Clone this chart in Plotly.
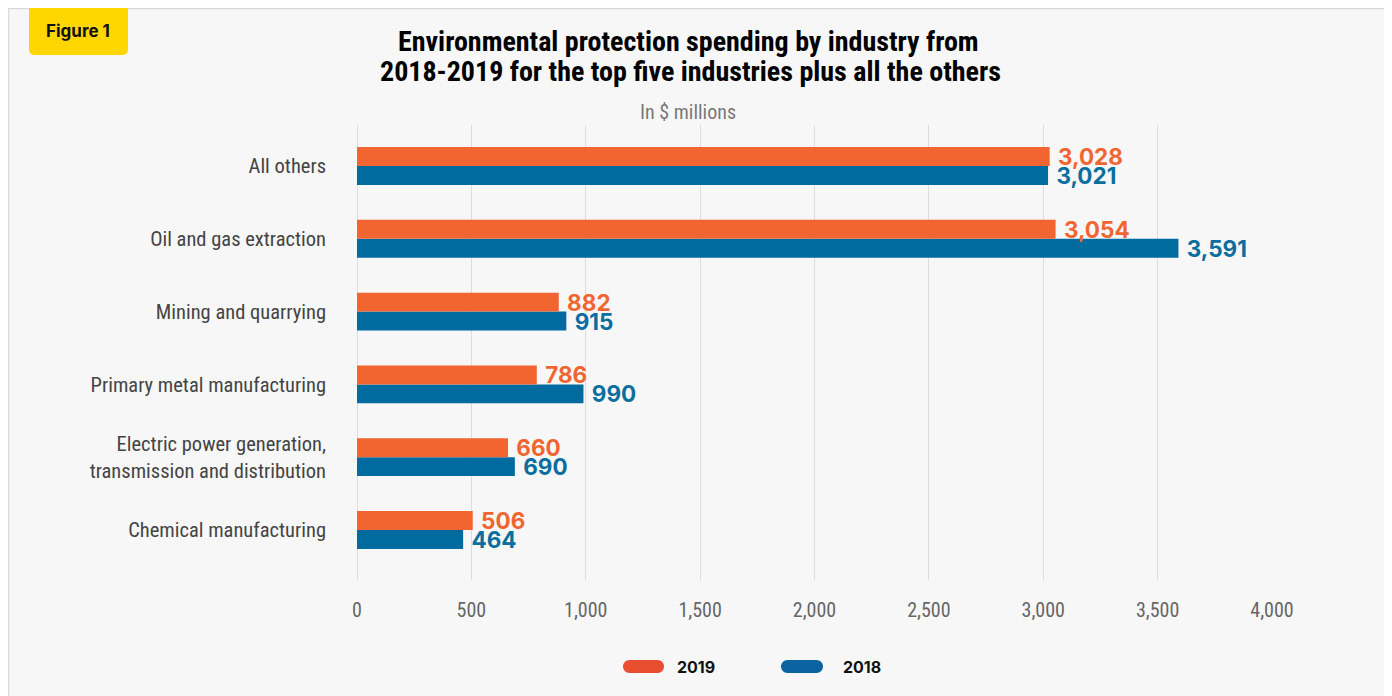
import plotly.graph_objects as go

# ---- data ----
categories = ["Chemical manufacturing",
              "Electric power generation,<br>transmission and distribution",
              "Primary metal manufacturing",
              "Mining and quarrying",
              "Oil and gas extraction",
              "All others"]
values_2019 = [506, 660, 786, 882, 3054, 3028]
values_2018 = [464, 690, 990, 915, 3591, 3021]
x_ticks = [0, 500, 1000, 1500, 2000, 2500, 3000, 3500, 4000]
x_tick_labels = ["0", "500", "1,000", "1,500", "2,000", "2,500", "3,000", "3,500", "4,000"]

# page has an 8px body margin, so the figure is drawn at (8, 8)
OFF = 8
W, H = 1392 - OFF, 696 - OFF
L, R, T, B = 357 - OFF, 120, 125 - OFF, 116
PW = W - L - R
PH = H - T - B

def px(x):  # page pixel x -> paper
    return (x - OFF - L) / PW

def py(y):  # page pixel y -> paper
    return (H - B - (y - OFF)) / PH

ORANGE = "#F26531"
BLUE = "#006B9F"
COND = "Roboto Condensed, DejaVu Sans Condensed, sans-serif"
BOLDF = "Inter, Lato, sans-serif"

fig = go.Figure()
fig.add_trace(go.Bar(y=categories, x=values_2018, orientation="h", name="2018",
                     marker=dict(color=BLUE, line=dict(width=0)),
                     texttemplate="\u00a0%{x:,}", textposition="outside", cliponaxis=False,
                     constraintext="none",
                     textfont=dict(family=BOLDF, size=22.5, color="#0A6E9E", weight="bold")))
fig.add_trace(go.Bar(y=categories, x=values_2019, orientation="h", name="2019",
                     marker=dict(color=ORANGE, line=dict(width=0)),
                     texttemplate="\u00a0%{x:,}", textposition="outside", cliponaxis=False,
                     constraintext="none",
                     textfont=dict(family=BOLDF, size=22.5, color="#F26531", weight="bold")))

shapes = []
# card background
shapes.append(dict(type="rect", xref="paper", yref="paper",
                   x0=px(8.5), x1=px(1390), y0=py(710), y1=py(8.5),
                   fillcolor="#F7F7F7", line=dict(color="#D9D9D9", width=1.5), layer="below"))
# badge
bx0, bx1, by0, by1, r = 29, 128, 8, 55, 6
path = (f"M {px(bx0)},{py(by0)} L {px(bx1)},{py(by0)} L {px(bx1)},{py(by1 - r)} "
        f"Q {px(bx1)},{py(by1)} {px(bx1 - r)},{py(by1)} L {px(bx0 + r)},{py(by1)} "
        f"Q {px(bx0)},{py(by1)} {px(bx0)},{py(by1 - r)} Z")
shapes.append(dict(type="path", xref="paper", yref="paper", path=path,
                   fillcolor="#FFD600", line=dict(width=0), layer="above"))

# legend pills
def pill(x0, x1, yc, h, color):
    rr = h / 2
    y0, y1 = yc - rr, yc + rr
    k = 0.55 * rr
    p = (f"M {px(x0 + rr)},{py(y0)} L {px(x1 - rr)},{py(y0)} "
         f"C {px(x1 - rr + k)},{py(y0)} {px(x1)},{py(yc - k)} {px(x1)},{py(yc)} "
         f"C {px(x1)},{py(yc + k)} {px(x1 - rr + k)},{py(y1)} {px(x1 - rr)},{py(y1)} "
         f"L {px(x0 + rr)},{py(y1)} "
         f"C {px(x0 + rr - k)},{py(y1)} {px(x0)},{py(yc + k)} {px(x0)},{py(yc)} "
         f"C {px(x0)},{py(yc - k)} {px(x0 + rr - k)},{py(y0)} {px(x0 + rr)},{py(y0)} Z")
    return dict(type="path", xref="paper", yref="paper", path=p,
                fillcolor=color, line=dict(width=0), layer="above")

shapes.append(pill(623, 664, 666.5, 13, "#E84E30"))
shapes.append(pill(781, 823, 666.5, 13, "#0B64A0"))

annotations = [
    dict(text="<b>Environmental protection spending by industry from</b>",
         x=px(688), y=py(42), xref="paper", yref="paper", xanchor="center", yanchor="middle",
         showarrow=False, font=dict(family=COND, size=28, color="#000000")),
    dict(text="<b>2018-2019 for the top five industries plus all the others</b>",
         x=px(690), y=py(72), xref="paper", yref="paper", xanchor="center", yanchor="middle",
         showarrow=False, font=dict(family=COND, size=28, color="#000000")),
    dict(text="In $ millions", x=px(688), y=py(112), xref="paper", yref="paper",
         xanchor="center", yanchor="middle", showarrow=False,
         font=dict(family=COND, size=20, color="#777777")),
    dict(text="<b>Figure 1</b>", x=px(78), y=py(31), xref="paper", yref="paper",
         xanchor="center", yanchor="middle", showarrow=False,
         font=dict(family=BOLDF, size=17, color="#111111")),
    dict(text="<b>2019</b>", x=px(675), y=py(667), xref="paper", yref="paper",
         xanchor="left", yanchor="middle", showarrow=False,
         font=dict(family=BOLDF, size=16, color="#111111")),
    dict(text="<b>2018</b>", x=px(841), y=py(667), xref="paper", yref="paper",
         xanchor="left", yanchor="middle", showarrow=False,
         font=dict(family=BOLDF, size=16, color="#111111")),
]

fig.update_layout(
    width=W, height=H,
    margin=dict(l=L, r=R, t=T, b=B, pad=0),
    paper_bgcolor="#FFFFFF",
    plot_bgcolor="rgba(0,0,0,0)",
    barmode="group", bargap=0.48, bargroupgap=0,
    showlegend=False,
    shapes=shapes,
    annotations=annotations,
    xaxis=dict(range=[0, 4000], tickvals=x_ticks, ticktext=x_tick_labels,
               showgrid=True, gridcolor="#DDDDDD", gridwidth=1,
               zeroline=True, zerolinecolor="#DDDDDD", zerolinewidth=1,
               showline=False, ticks="", ticklabelstandoff=16,
               tickfont=dict(family=COND, size=20, color="#666666")),
    yaxis=dict(type="category", categoryorder="array", categoryarray=categories,
               range=[-0.687, 5.563], showgrid=False, zeroline=False, showline=False,
               ticks="", ticklabelstandoff=30,
               tickfont=dict(family=COND, size=20.5, color="#444444")),
)

fig.write_html("out.html")
